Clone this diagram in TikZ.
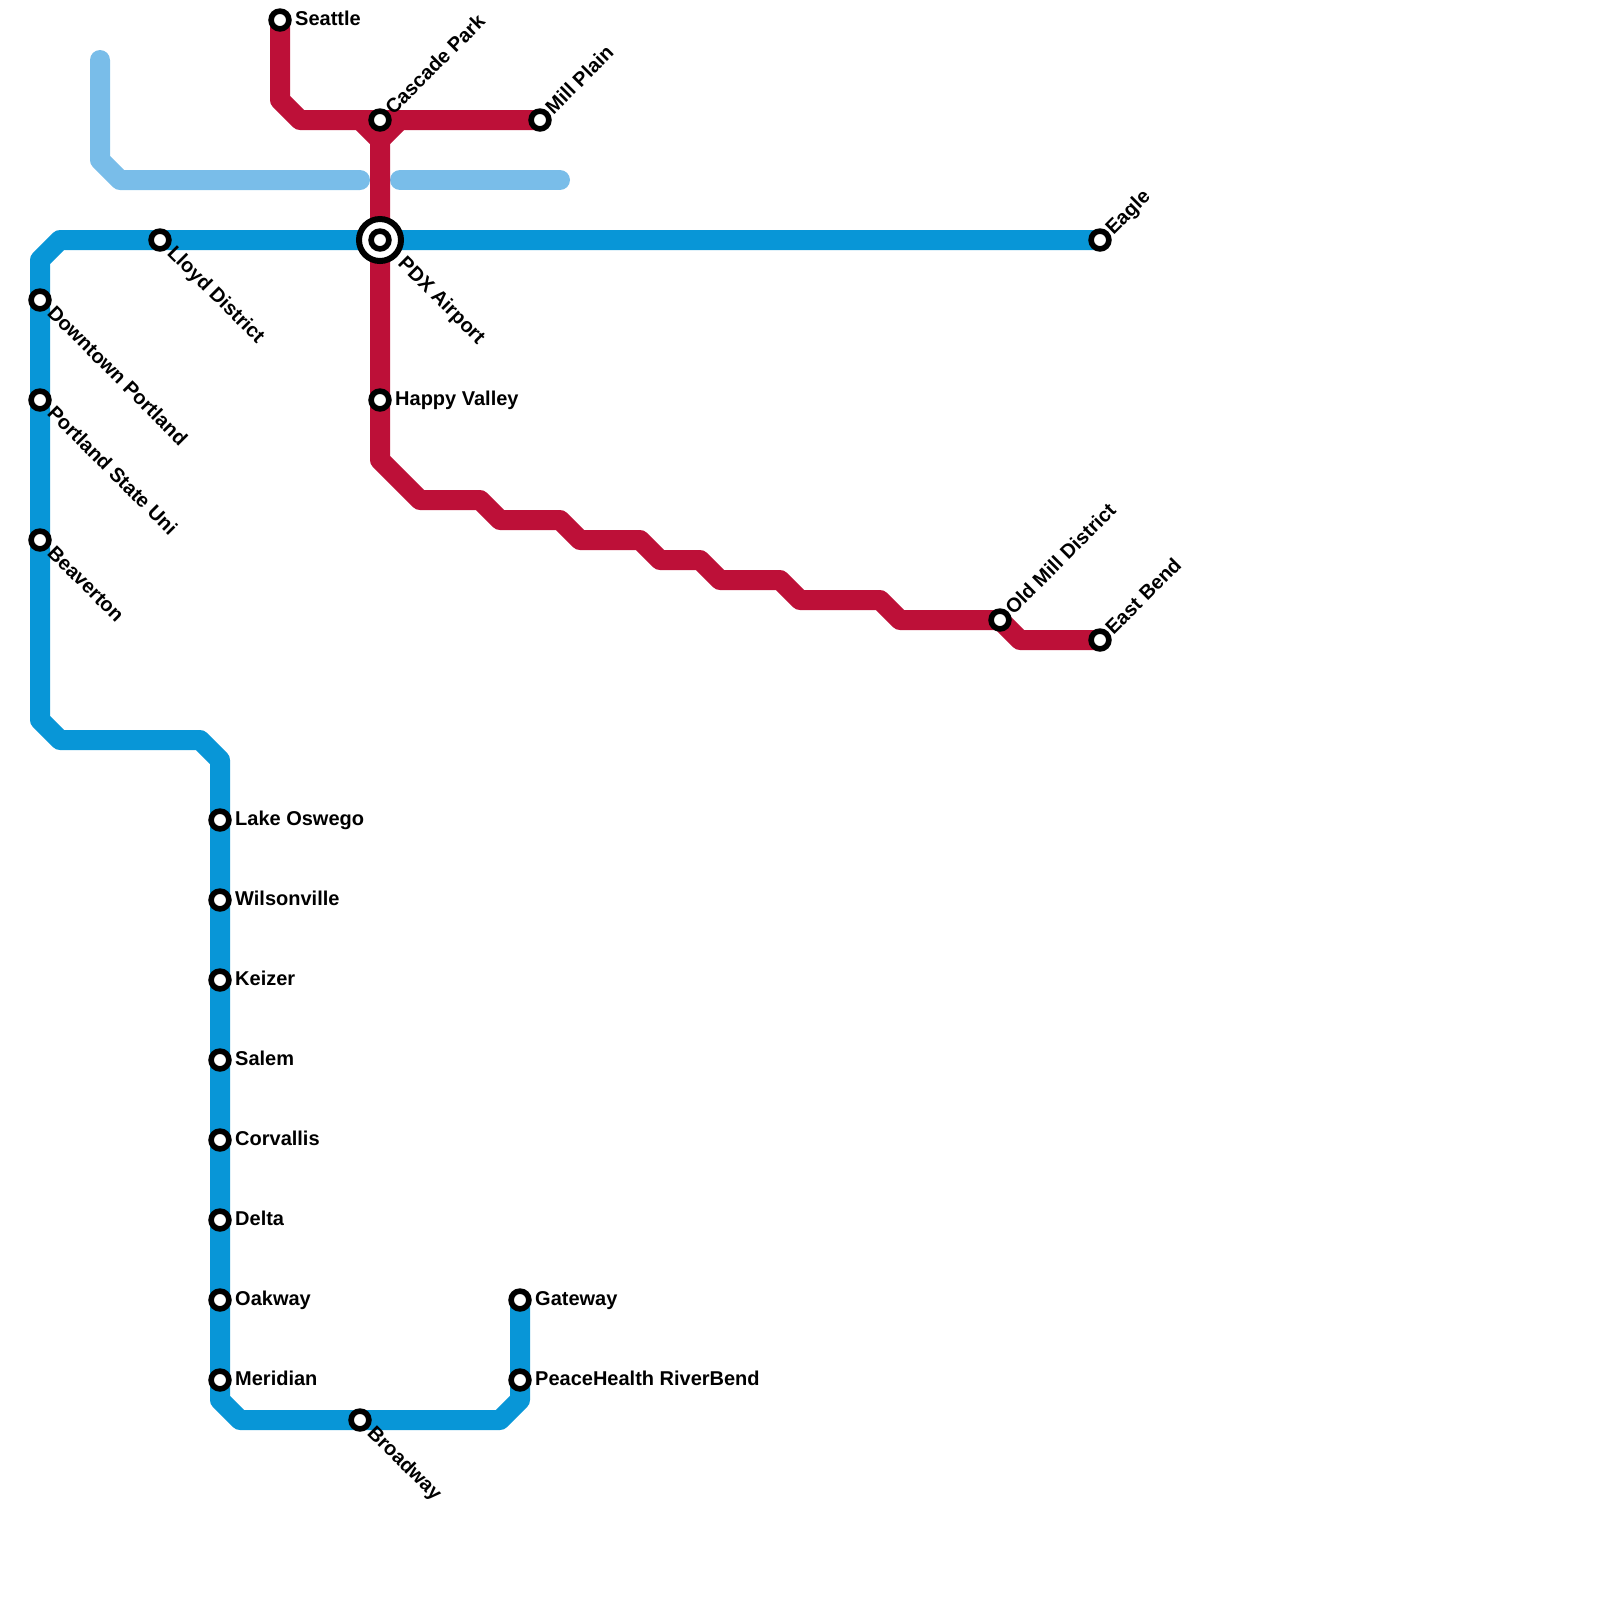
\documentclass[tikz,border=0pt]{standalone}
\usepackage{fontspec}
\setmainfont{Liberation Sans}
\usetikzlibrary{backgrounds}
\definecolor{trunkblue}{HTML}{0896D7}
\definecolor{cityred}{HTML}{BD1038}
\definecolor{skyblue}{HTML}{79BDE9}
\tikzset{
  route/.style={line width=0.2cm,line cap=round,line join=round},
  station/.style={circle,draw=black,fill=white,line width=0.056cm,minimum size=0.178cm,inner sep=0pt},
  hubring/.style={circle,draw=black,fill=white,line width=0.06cm,minimum size=0.42cm,inner sep=0pt},
  labe/.style={anchor=base west,inner sep=0pt,shift={(0.145cm,-0.05cm)}},
  labse/.style={anchor=base west,inner sep=0pt,shift={(0.06cm,-0.135cm)},rotate=-45},
  labne/.style={anchor=base west,inner sep=0pt,shift={(0.13cm,0.04cm)},rotate=45},
}
\begin{document}
\begin{tikzpicture}[x=0.2cm,y=-0.2cm,font=\fontsize{5.69}{6.8}\selectfont\bfseries]
\useasboundingbox (0,0) rectangle (80,80);
% stations, top line first
\node[station] (seattle) at (14,1) {};
\node[station] (cascade) at (19,6) {};
\node[station] (millplain) at (27,6) {};
\node[hubring] (pdxring) at (19,12) {};
\node[station] (pdx) at (19,12) {};
\node[station] (happy) at (19,20) {};
\node[station] (oldmill) at (50,31) {};
\node[station] (eastbend) at (55,32) {};
\node[station] (eagle) at (55,12) {};
\node[station] (lloyd) at (8,12) {};
\node[station] (downtown) at (2,15) {};
\node[station] (portland) at (2,20) {};
\node[station] (beaverton) at (2,27) {};
\node[station] (oswego) at (11,41) {};
\node[station] (wilsonville) at (11,45) {};
\node[station] (keizer) at (11,49) {};
\node[station] (salem) at (11,53) {};
\node[station] (corvallis) at (11,57) {};
\node[station] (delta) at (11,61) {};
\node[station] (oakway) at (11,65) {};
\node[station] (meridian) at (11,69) {};
\node[station] (broadway) at (18,71) {};
\node[station] (gateway) at (26,65) {};
\node[station] (riverbend) at (26,69) {};
% labels
\node[labe] (seattlelbl) at (seattle.center) {Seattle};
\node[labne] (cascadelbl) at (cascade.center) {Cascade Park};
\node[labne] (millplainlbl) at (millplain.center) {Mill Plain};
\node[labse,shift={(0.152cm,0cm)}] (pdxlbl) at (pdx.center) {PDX Airport};
\node[labe] (happylbl) at (happy.center) {Happy Valley};
\node[labne] (oldmilllbl) at (oldmill.center) {Old Mill District};
\node[labne] (eastbendlbl) at (eastbend.center) {East Bend};
\node[labne] (eaglelbl) at (eagle.center) {Eagle};
\node[labse] (lloydlbl) at (lloyd.center) {Lloyd District};
\node[labse] (downtownlbl) at (downtown.center) {Downtown Portland};
\node[labse] (portlandlbl) at (portland.center) {Portland State Uni};
\node[labse] (beavertonlbl) at (beaverton.center) {Beaverton};
\node[labe] (oswegolbl) at (oswego.center) {Lake Oswego};
\node[labe] (wilsonvillelbl) at (wilsonville.center) {Wilsonville};
\node[labe] (keizerlbl) at (keizer.center) {Keizer};
\node[labe] (salemlbl) at (salem.center) {Salem};
\node[labe] (corvallislbl) at (corvallis.center) {Corvallis};
\node[labe] (deltalbl) at (delta.center) {Delta};
\node[labe] (oakwaylbl) at (oakway.center) {Oakway};
\node[labe] (meridianlbl) at (meridian.center) {Meridian};
\node[labse] (broadwaylbl) at (broadway.center) {Broadway};
\node[labe] (gatewaylbl) at (gateway.center) {Gateway};
\node[labe] (riverbendlbl) at (riverbend.center) {PeaceHealth RiverBend};
% free ends
\coordinate (skystart) at (5,3);
\coordinate (skygapw) at (18,9);
\coordinate (skygape) at (20,9);
\coordinate (skyend) at (28,9);
\coordinate (redjoin) at (19,7);
\begin{scope}[on background layer]
\draw[route,skyblue] (skystart) -- (5,8) -- (6,9) -- (skygapw);
\draw[route,skyblue] (skygape) -- (skyend);
\draw[route,trunkblue] (eagle.center) -- (lloyd.center) -- (3,12) -- (2,13) -- (downtown.center)
  -- (portland.center) -- (beaverton.center) -- (2,36) -- (3,37) -- (10,37) -- (11,38)
  -- (meridian.center) -- (11,70) -- (12,71) -- (broadway.center) -- (25,71) -- (26,70)
  -- (riverbend.center) -- (gateway.center);
\draw[route,cityred] (seattle.center) -- (14,5) -- (15,6) -- (cascade.center) -- (millplain.center);
\draw[route,cityred] (18,6) -- (redjoin) -- (20,6);
\draw[route,cityred] (redjoin) -- (pdx.center) -- (happy.center) -- (19,23) -- (21,25) -- (24,25)
  -- (25,26) -- (28,26) -- (29,27) -- (32,27) -- (33,28) -- (35,28) -- (36,29) -- (39,29)
  -- (40,30) -- (44,30) -- (45,31) -- (oldmill.center) -- (51,32) -- (eastbend.center);
\end{scope}
\end{tikzpicture}
\end{document}
